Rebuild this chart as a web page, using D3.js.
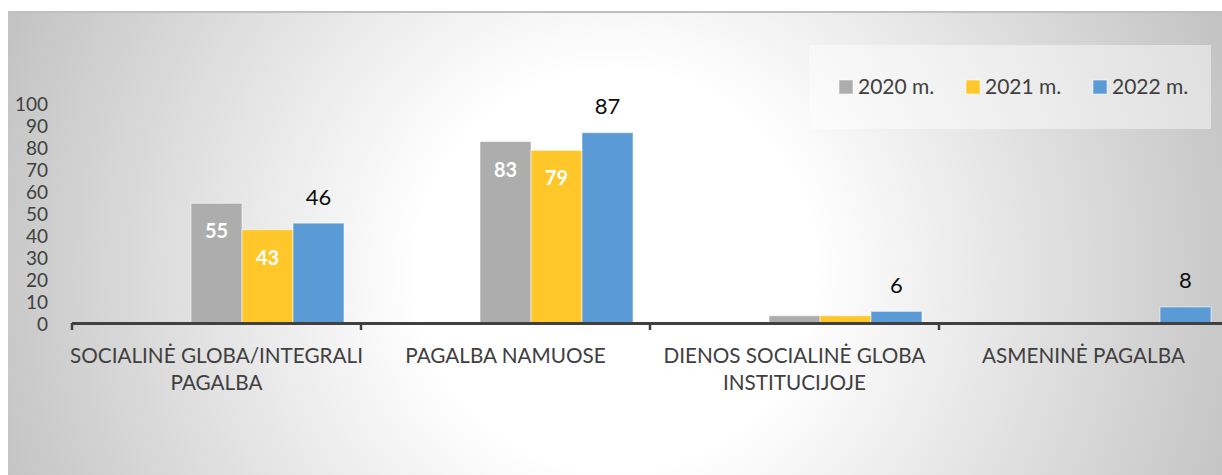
<!DOCTYPE html>
<html>
<head>
<meta charset="utf-8">
<script src="https://cdn.jsdelivr.net/npm/d3@7"></script>
<style>
  html, body { margin: 0; padding: 0; background: #fff; }
  svg { display: block; font-family: Lato, "Open Sans", sans-serif; }
</style>
</head>
<body>
<svg id="chart" width="1222" height="475"></svg>
<script>
// DATA
const categories = [
  ["SOCIALINĖ GLOBA/INTEGRALI", "PAGALBA"],
  ["PAGALBA NAMUOSE"],
  ["DIENOS SOCIALINĖ GLOBA", "INSTITUCIJOJE"],
  ["ASMENINĖ PAGALBA"],
];
const seriesNames = ["2020 m.", "2021 m.", "2022 m."];
const seriesColors = ["#adadad", "#ffc729", "#5b9bd5"];
const values2020 = [55, 83, 4, 0];
const values2021 = [43, 79, 4, 0];
const values2022 = [46, 87, 6, 8];
// which values get a label (small ones were left unlabeled in the original)
const labels2020 = [true, true, false, false];
const labels2021 = [true, true, false, false];
const labels2022 = [true, true, true, true];
const yTicks = [0, 10, 20, 30, 40, 50, 60, 70, 80, 90, 100];

const seriesValues = [values2020, values2021, values2022];
const seriesLabels = [labels2020, labels2021, labels2022];

// CANVAS SETUP
const svg = d3.select("#chart");
const catKeys = categories.map((c) => c.join(" "));

const defs = svg.append("defs");
const grad = defs
  .append("radialGradient")
  .attr("id", "bgGrad")
  .attr("gradientUnits", "userSpaceOnUse")
  .attr("cx", 615)
  .attr("cy", 270)
  .attr("r", 660);
grad.append("stop").attr("offset", "0").attr("stop-color", "#ffffff");
grad.append("stop").attr("offset", "0.3").attr("stop-color", "#ffffff");
grad.append("stop").attr("offset", "1").attr("stop-color", "#c2c2c2");

svg
  .append("rect")
  .attr("x", 8)
  .attr("y", 11)
  .attr("width", 1230)
  .attr("height", 480)
  .attr("fill", "url(#bgGrad)");
svg
  .append("line")
  .attr("x1", 8)
  .attr("x2", 1222)
  .attr("y1", 12)
  .attr("y2", 12)
  .attr("stroke", "#c0c0c0")
  .attr("stroke-width", 2);

// SCALES
const x0 = d3.scaleBand().domain(catKeys).range([72, 1228]).padding(0);

// the original chart holds five series slots per category, the first two empty
const slotOffset = 2;
const x1 = d3
  .scaleBand()
  .domain(d3.range(5))
  .range([0, x0.bandwidth()])
  .paddingInner(0)
  .paddingOuter(1 / 3);

const y = d3.scaleLinear().domain([0, 100]).range([324.6, 104]);

// Y AXIS
const gy = svg
  .append("g")
  .attr("transform", "translate(48,0)")
  .call(d3.axisLeft(y).tickValues(yTicks).tickSize(0).tickPadding(0));
gy.select(".domain").remove();
gy.selectAll("text")
  .attr("font-family", "Lato, sans-serif")
  .attr("font-size", 19)
  .attr("fill", "#404040");

// BARS
const bars = [];
seriesValues.forEach((vals, s) => {
  vals.forEach((v, c) => {
    bars.push({ s, c, v, label: seriesLabels[s][c] });
  });
});

svg
  .append("g")
  .selectAll("rect")
  .data(bars.filter((d) => d.v > 0))
  .join("rect")
  .attr("x", (d) => x0(catKeys[d.c]) + x1(d.s + slotOffset))
  .attr("y", (d) => y(d.v))
  .attr("width", x1.bandwidth())
  .attr("height", (d) => y(0) - y(d.v))
  .attr("fill", (d) => seriesColors[d.s])
  .attr("stroke", "rgba(255,255,255,0.55)")
  .attr("stroke-width", 1);

// X AXIS
svg
  .append("line")
  .attr("x1", x0.range()[0])
  .attr("x2", x0.range()[1])
  .attr("y1", 323.6)
  .attr("y2", 323.6)
  .attr("stroke", "#404040")
  .attr("stroke-width", 3);

const bounds = catKeys.map((k) => x0(k)).concat([x0.range()[1]]);
svg
  .append("g")
  .selectAll("line")
  .data(bounds)
  .join("line")
  .attr("x1", (d) => d)
  .attr("x2", (d) => d)
  .attr("y1", 323)
  .attr("y2", 330)
  .attr("stroke", "#404040")
  .attr("stroke-width", 2.5);

const catLabels = svg
  .append("g")
  .selectAll("text")
  .data(categories)
  .join("text")
  .attr("text-anchor", "middle")
  .attr("font-size", 20.7)
  .attr("fill", "#404040")
  .attr("transform", (d, i) => `translate(${x0(catKeys[i]) + x0.bandwidth() / 2},363)`);
catLabels
  .selectAll("tspan")
  .data((d) => d)
  .join("tspan")
  .attr("x", 0)
  .attr("y", (d, i) => i * 27)
  .text((d) => d);

// DATA LABELS
const labelled = bars.filter((d) => d.label);
svg
  .append("g")
  .selectAll("text")
  .data(labelled)
  .join("text")
  .attr("x", (d) => x0(catKeys[d.c]) + x1(d.s + slotOffset) + x1.bandwidth() / 2)
  .attr("y", (d) => (d.s < 2 ? y(d.v) + 35 : y(d.v) - 18.5))
  .attr("text-anchor", "middle")
  .attr("font-size", (d) => (d.s < 2 ? 20 : 22))
  .attr("font-weight", (d) => (d.s < 2 ? "bold" : "normal"))
  .attr("fill", (d) => (d.s < 2 ? "#ffffff" : "#0d0d0d"))
  .text((d) => d.v);

// LEGEND
svg
  .append("rect")
  .attr("x", 809)
  .attr("y", 45)
  .attr("width", 402)
  .attr("height", 84)
  .attr("fill", "rgba(255,255,255,0.45)");

const legendX = [839, 966, 1093];
const legend = svg
  .append("g")
  .selectAll("g")
  .data(seriesNames)
  .join("g")
  .attr("transform", (d, i) => `translate(${legendX[i]},80)`);
legend
  .append("rect")
  .attr("width", 14)
  .attr("height", 14)
  .attr("fill", (d, i) => seriesColors[i])
  .attr("stroke", "rgba(255,255,255,0.55)");
legend
  .append("text")
  .attr("x", 19)
  .attr("y", 14)
  .attr("font-size", 21)
  .attr("fill", "#404040")
  .text((d) => d);
</script>
</body>
</html>
